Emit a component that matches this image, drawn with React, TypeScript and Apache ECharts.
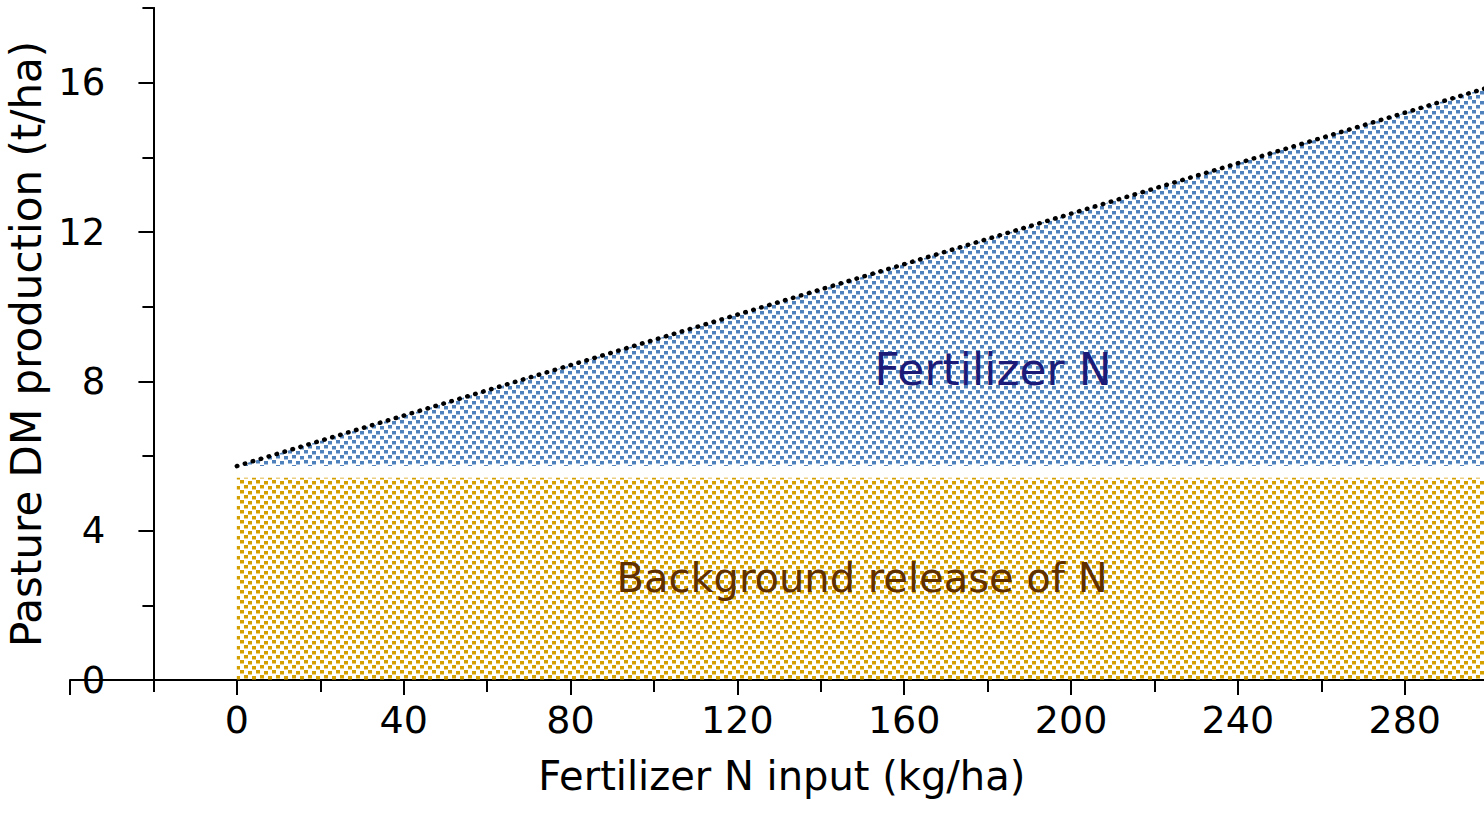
import React, { useEffect, useRef } from "react";
import * as echarts from "echarts";

// ---- data ----
const xAxisMin = -40;
const xAxisMax = 320;
const xAxisInterval = 40;
const yAxisMin = 0;
const yAxisMax = 18;
const yMajorTicks = [0, 4, 8, 12, 16];
const yMinorTicks = [2, 6, 10, 14, 18];
const yAxisCrossesAtX = -20;

const backgroundX = [0, 300];
const backgroundY = [5.42, 5.42];

const fertilizerX = [0, 300];
const fertilizerY = [5.73, 15.87];
const fertilizerBase = 5.73;

const xTitle = "Fertilizer N input (kg/ha)";
const yTitle = "Pasture DM production (t/ha)";
const fertilizerLabel = "Fertilizer N";
const backgroundLabel = "Background release of N";

// ---- layout ----
const CHART_W = 1600;
const CHART_H = 833;
const GRID_LEFT = 70;
const GRID_TOP = 8;
const GRID_BOTTOM = 153;
const PX_PER_X = 4.171;
const FONT = '"Comic Sans MS", "DejaVu Sans", sans-serif';

function makePattern(color: string) {
  const c = document.createElement("canvas");
  c.width = 16;
  c.height = 10;
  const ctx = c.getContext("2d")!;
  ctx.fillStyle = color;
  const squares = [
    [0, 0],
    [8, 1],
    [4, 5],
    [12, 6],
  ];
  squares.forEach(([x, y]) => ctx.fillRect(x, y, 4, 3.5));
  return {
    image: c.toDataURL(),
    repeat: "repeat",
    imageWidth: 16,
    imageHeight: 10,
  } as any;
}

export default function App() {
  const ref = useRef<HTMLDivElement>(null);

  useEffect(() => {
    if (!ref.current) return;
    const chart = echarts.init(ref.current, undefined, { renderer: "svg" });
    const gridWidth = (xAxisMax - xAxisMin) * PX_PER_X;
    const gridRight = CHART_W - GRID_LEFT - gridWidth;
    const yOffset = -(yAxisCrossesAtX - xAxisMin) * PX_PER_X;

    const gold = makePattern("#D4A000");
    const blue = makePattern("#4F81BD");

    const axisLineStyle = { color: "#000", width: 2 };

    const option: any = {
      animation: false,
      backgroundColor: "#fff",
      grid: {
        left: GRID_LEFT,
        top: GRID_TOP,
        bottom: GRID_BOTTOM,
        right: gridRight,
        outerBoundsMode: "none",
        containLabel: false,
      },
      xAxis: {
        type: "value",
        min: xAxisMin,
        max: xAxisMax,
        interval: xAxisInterval,
        axisLine: { onZero: false, lineStyle: axisLineStyle },
        axisTick: { length: 15, lineStyle: axisLineStyle },
        minorTick: { show: true, splitNumber: 2, length: 12, lineStyle: axisLineStyle },
        splitLine: { show: false },
        minorSplitLine: { show: false },
        axisLabel: {
          margin: 21,
          fontSize: 38,
          color: "#000",
          fontFamily: FONT,
          formatter: (v: number) => (v < 0 || v > 290 ? "" : String(v)),
        },
        name: xTitle,
        nameLocation: "middle",
        nameGap: 76,
        nameTextStyle: {
          fontSize: 40,
          color: "#000",
          fontFamily: FONT,
          padding: [0, 78, 0, 0],
        },
      },
      yAxis: [
        {
          type: "value",
          position: "left",
          offset: yOffset,
          min: yAxisMin,
          max: yAxisMax,
          interval: 4,
          axisLine: { show: true, onZero: false, lineStyle: axisLineStyle },
          axisTick: { show: true, length: 15, customValues: yMajorTicks, lineStyle: axisLineStyle },
          splitLine: { show: false },
          axisLabel: {
            margin: 48,
            fontSize: 37,
            color: "#000",
            fontFamily: FONT,
            customValues: yMajorTicks,
          },
          name: yTitle,
          nameLocation: "middle",
          nameGap: 86,
          nameTextStyle: { fontSize: 42, color: "#000", fontFamily: FONT },
        },
        {
          type: "value",
          position: "left",
          offset: yOffset,
          min: yAxisMin,
          max: yAxisMax,
          interval: 2,
          axisLine: { show: true, onZero: false, lineStyle: axisLineStyle },
          axisTick: { show: true, length: 11, customValues: yMinorTicks, lineStyle: axisLineStyle },
          splitLine: { show: false },
          axisLabel: { show: false },
        },
      ],
      series: [
        {
          type: "line",
          name: backgroundLabel,
          data: backgroundX.map((x, i) => [x, backgroundY[i]]),
          symbol: "none",
          silent: true,
          lineStyle: { width: 0, opacity: 0 },
          areaStyle: { color: gold, opacity: 1, origin: "start" },
          z: 2,
        },
        {
          type: "line",
          name: fertilizerLabel,
          data: fertilizerX.map((x, i) => [x, fertilizerY[i]]),
          symbol: "none",
          silent: true,
          lineStyle: { color: "#000", width: 4.5, type: [0.5, 7.8], cap: "round" },
          areaStyle: { color: blue, opacity: 1, origin: fertilizerBase },
          z: 3,
        },
      ],
      graphic: [
        {
          type: "text",
          x: 993,
          y: 369,
          z: 10,
          style: {
            text: fertilizerLabel,
            fill: "#1C1C78",
            fontSize: 44,
            fontFamily: FONT,
            align: "center",
            verticalAlign: "middle",
          },
        },
        {
          type: "text",
          x: 862,
          y: 578,
          z: 10,
          style: {
            text: backgroundLabel,
            fill: "#603000",
            fontSize: 40,
            fontFamily: FONT,
            align: "center",
            verticalAlign: "middle",
          },
        },
      ],
    };
    chart.setOption(option);
    return () => chart.dispose();
  }, []);

  return (
    <div
      style={{
        position: "fixed",
        left: 0,
        top: 0,
        width: 1484,
        height: 833,
        overflow: "hidden",
        background: "#fff",
      }}
    >
      <div ref={ref} style={{ width: CHART_W, height: CHART_H }} />
    </div>
  );
}
